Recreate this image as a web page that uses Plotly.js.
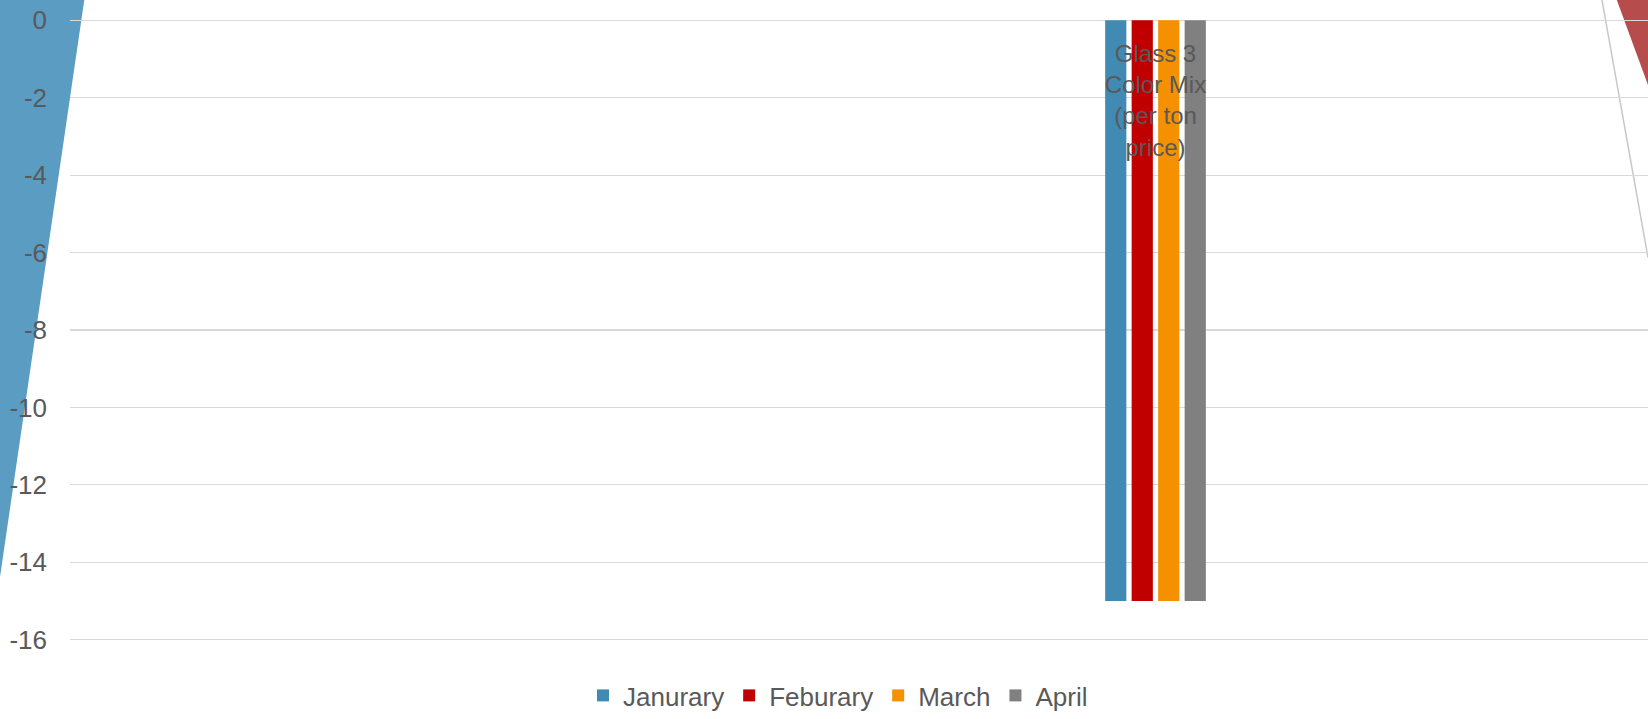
<!DOCTYPE html>
<html>
<head>
<meta charset="utf-8">
<script src="https://cdn.plot.ly/plotly-3.0.1.min.js"></script>
<style>html,body{margin:0;padding:0;background:#fff;overflow:hidden}#chart{width:1648px;height:719px}</style>
</head>
<body>
<div id="chart"></div>
<script>
// ---- data ----
const categories = ["Glass 3 Color Mix (per ton price)"];
const categoryLabels = ["Glass 3<br>Color Mix<br>(per ton<br>price)"];
const seriesNames = ["Janurary", "Feburary", "March", "April"];
const january = [-15];
const february = [-15];
const march = [-15];
const april = [-15];
const yTickVals = [0, -2, -4, -6, -8, -10, -12, -14, -16];

// ---- styling ----
const colors = ["#418AB3", "#C00000", "#F59100", "#808080"];
const W = 1648, H = 719;
const yTop = 20, yBot = 641;                 // pixel rows of 0 and -16
const pad = 0.06;                            // axis padding (units)
const pxPerUnit = (yBot - yTop) / 16;
const M = {l: 70, r: 0, t: Math.round(yTop - pad * pxPerUnit), b: Math.round(H - yBot - pad * pxPerUnit)};
const plotW = W - M.l - M.r, plotH = H - M.t - M.b;
const px = x => (x - M.l) / plotW;          // pixel -> paper x
const py = y => (H - M.b - y) / plotH;      // pixel -> paper y

const values = [january, february, march, april];
const traces = values.map((v, i) => ({
  type: "bar",
  name: seriesNames[i],
  x: categories,
  y: v,
  marker: {color: colors[i]},
  hoverinfo: "name+y"
}));

const unit = 400;                     // px per category
const center = 1155.5;
const xr0 = -(center - M.l) / unit;
const xr1 = xr0 + plotW / unit;

// decorative fragments of neighbouring objects visible in the crop
const frag = (pts) => "M" + pts.map(p => px(p[0]) + "," + py(p[1])).join("L") + "Z";
const shapes = [
  {type: "path", xref: "paper", yref: "paper", path: frag([[-5, -5], [85, -5], [0, 578], [-5, 578]]),
   fillcolor: "#5B9DC2", line: {width: 0}, layer: "below"},
  {type: "path", xref: "paper", yref: "paper", path: frag([[1615, -5], [1660, -5], [1660, 118]]),
   fillcolor: "#B64C4C", line: {width: 0}, layer: "below"},
  {type: "line", xref: "paper", yref: "paper", x0: px(1602), y0: py(0), x1: px(1648), y1: py(258),
   line: {color: "#C8C8C8", width: 1.5}, layer: "below"}
];

const font = {family: "Liberation Sans, Arial, sans-serif", size: 26, color: "#595959"};
const catFont = {family: "Liberation Sans, Arial, sans-serif", size: 24, color: "#595959"};

const layout = {
  width: W, height: H,
  margin: M,
  paper_bgcolor: "#ffffff",
  plot_bgcolor: "rgba(0,0,0,0)",
  font: font,
  barmode: "group",
  bargap: 1 - 106 / unit,
  bargroupgap: 0.2,
  showlegend: true,
  legend: {orientation: "h", x: px(838), xanchor: "center", y: py(697), yanchor: "middle",
           font: font, bgcolor: "rgba(0,0,0,0)"},
  xaxis: {type: "category", range: [xr0, xr1], anchor: "free", position: py(yTop), side: "bottom",
          tickvals: categories, ticktext: categoryLabels, showgrid: false, zeroline: false,
          showline: false, ticks: "", ticklabelstandoff: 17, tickfont: catFont, fixedrange: true},
  yaxis: {range: [-16 - pad, pad], tickvals: yTickVals, ticktext: yTickVals.map(String),
          showgrid: true, gridcolor: "#D9D9D9", gridwidth: 1.3, zeroline: true, zerolinecolor: "#D9D9D9",
          zerolinewidth: 1.3, showline: false, ticks: "", ticklabelstandoff: 22, tickfont: font, fixedrange: true},
  shapes: shapes
};

Plotly.newPlot("chart", traces, layout, {displayModeBar: false, staticPlot: true});
</script>
</body>
</html>
